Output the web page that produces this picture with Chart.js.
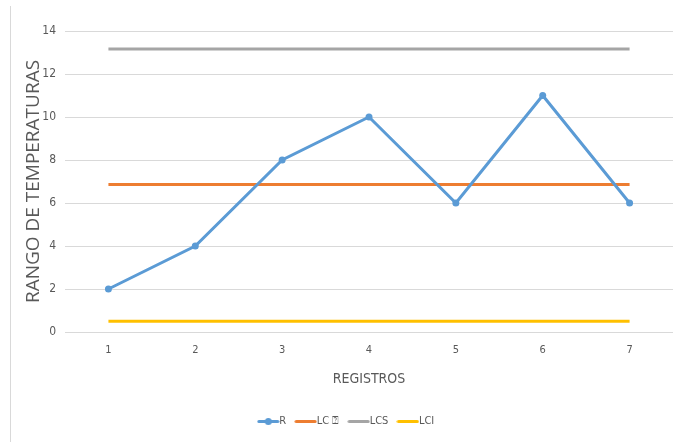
<!DOCTYPE html>
<html>
<head>
<meta charset="utf-8">
<script src="https://cdn.jsdelivr.net/npm/chart.js@4/dist/chart.umd.min.js"></script>
<style>
html,body{margin:0;padding:0;background:#fff;}
#wrap{position:relative;width:673px;height:442px;}
#frame{position:absolute;left:10px;top:6px;width:0;height:436px;border-left:1px solid #d9d9d9;}
canvas{position:absolute;left:0;top:0;}
</style>
</head>
<body>
<div id="wrap"><div id="frame"></div><canvas id="c" width="673" height="442"></canvas></div>
<script>
const categories = ['1','2','3','4','5','6','7'];
const seriesR = [2, 4, 8, 10, 6, 11, 6];
const seriesLC = [6.86, 6.86, 6.86, 6.86, 6.86, 6.86, 6.86];
const seriesLCS = [13.16, 13.16, 13.16, 13.16, 13.16, 13.16, 13.16];
const seriesLCI = [0.5, 0.5, 0.5, 0.5, 0.5, 0.5, 0.5];
const seriesNames = ['R', 'LC \u2370', 'LCS', 'LCI'];
const yTicks = [0, 2, 4, 6, 8, 10, 12, 14];

const colors = ['#5B9BD5', '#ED7D31', '#A5A5A5', '#FFC000'];

function legendIcon(color, dot) {
  const cv = document.createElement('canvas');
  cv.width = 23; cv.height = 9;
  const g = cv.getContext('2d');
  g.strokeStyle = color; g.lineWidth = 3; g.lineCap = 'round';
  g.beginPath(); g.moveTo(2, 4.5); g.lineTo(21, 4.5); g.stroke();
  if (dot) { g.fillStyle = color; g.beginPath(); g.arc(11.5, 4.5, 3.5, 0, Math.PI * 2); g.fill(); }
  return cv;
}
const icons = colors.map((c, i) => legendIcon(c, i === 0));

const narrow = "'Liberation Sans Narrow', 'DejaVu Sans Condensed', 'Liberation Sans', sans-serif";

new Chart(document.getElementById('c'), {
  type: 'line',
  data: {
    labels: categories,
    datasets: [
      { label: seriesNames[0], data: seriesR, borderColor: colors[0], backgroundColor: colors[0], borderWidth: 3, pointRadius: 3.5, pointBorderWidth: 0, pointHoverRadius: 3.5, tension: 0 },
      { label: seriesNames[1], data: seriesLC, borderColor: colors[1], backgroundColor: colors[1], borderWidth: 3, pointRadius: 0 },
      { label: seriesNames[2], data: seriesLCS, borderColor: colors[2], backgroundColor: colors[2], borderWidth: 3, pointRadius: 0 },
      { label: seriesNames[3], data: seriesLCI, borderColor: colors[3], backgroundColor: colors[3], borderWidth: 3, pointRadius: 0 }
    ]
  },
  options: {
    responsive: false,
    animation: false,
    devicePixelRatio: 1,
    layout: { autoPadding: false, padding: { left: 24, right: 0, top: 31, bottom: 5 } },
    plugins: {
      tooltip: { enabled: false },
      legend: {
        position: 'bottom',
        labels: {
          usePointStyle: true,
          color: '#595959',
          font: { family: narrow, size: 11 },
          padding: 14,
          generateLabels: (chart) => chart.data.datasets.map((ds, i) => ({
            text: ds.label, pointStyle: icons[i], fillStyle: colors[i], strokeStyle: colors[i],
            lineWidth: 0, hidden: false, datasetIndex: i, fontColor: '#595959'
          }))
        }
      }
    },
    scales: {
      x: {
        offset: true,
        grid: { display: false, drawTicks: false },
        border: { display: false },
        ticks: { color: '#595959', font: { family: narrow, size: 11 }, padding: 12 },
        title: { display: true, text: 'REGISTROS', color: '#595959', font: { family: narrow, size: 14 }, padding: { top: 2, bottom: 14 } }
      },
      y: {
        min: 0, max: 14,
        afterBuildTicks: (ax) => { ax.ticks = yTicks.map(v => ({ value: v })); },
        afterFit: (ax) => { ax.width = 41; },
        grid: { color: '#d9d9d9', lineWidth: 1, drawTicks: false },
        border: { display: false },
        ticks: { color: '#595959', font: { family: narrow, size: 12 }, padding: 9 },
        title: { display: true, text: 'RANGO DE TEMPERATURAS', color: '#595959', font: { family: "'Open Sans', 'Liberation Sans', sans-serif", size: 19, lineHeight: 1 }, padding: { top: 0, bottom: -5 } }
      }
    }
  }
});
</script>
</body>
</html>
